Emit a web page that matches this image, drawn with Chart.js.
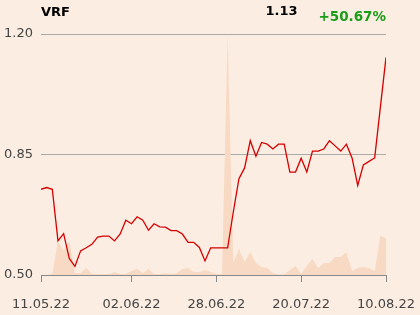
<!DOCTYPE html>
<html><head><meta charset="utf-8">
<script src="https://cdn.jsdelivr.net/npm/chart.js@4"></script>
<style>
html,body{margin:0;padding:0;background:#fbede1;}
#wrap{position:relative;width:420px;height:315px;font-family:"DejaVu Sans",sans-serif;}
canvas{display:block}
.t{position:absolute;font-weight:bold;line-height:1;white-space:nowrap}
</style></head><body>
<div id="wrap">
<canvas id="c" width="420" height="315"></canvas>
<div class="t" style="left:41px;top:5px;font-size:13px;color:#000">VRF</div>
<div class="t" style="left:265.5px;top:3.5px;font-size:13px;color:#000">1.13</div>
<div class="t" style="right:34px;top:10px;font-size:13.5px;color:#1a9e1a">+50.67%</div>
</div>
<script>
// daily close, 11.05.22 .. 10.08.22
const prices = [0.749,0.754,0.749,0.599,0.620,0.548,0.525,0.570,0.579,0.589,
  0.610,0.613,0.613,0.599,0.619,0.659,0.649,0.669,0.659,0.630,
  0.649,0.640,0.639,0.629,0.629,0.619,0.595,0.595,0.580,0.541,
  0.579,0.579,0.579,0.579,0.683,0.780,0.811,0.890,0.845,0.885,
  0.880,0.866,0.880,0.880,0.799,0.799,0.839,0.799,0.860,0.860,
  0.866,0.890,0.875,0.860,0.880,0.840,0.760,0.820,0.830,0.840,
  0.987,1.132];
// volume (relative units)
const volumes = [0,0,1,34,24,34,2,2,7,1,
  1,1,1,3,1,1,4,6,2,6,
  1,1,2,1,2,6,7,3,3,5,
  3,1,1,240,12,26,13,23,12,8,
  7,2,0.5,0.5,5,9,1,9,16,7,
  12,12,18,18,23,4,7,8,7,4,
  39,37];
const tickIdx = [0,16,31,46,61];
const tickLabels = ['11.05.22','02.06.22','28.06.22','20.07.22','10.08.22'];
const yTicks = [0.5,0.85,1.2];

const pts = arr => arr.map((v,i)=>({x:i,y:v}));

new Chart(document.getElementById('c'), {
  type:'line',
  data:{ datasets:[
    { data:pts(prices), borderColor:'#d40000', borderWidth:1.3, pointRadius:0, tension:0, fill:false, yAxisID:'y', order:1 },
    { data:pts(volumes), borderWidth:0, backgroundColor:'#f8dac4', pointRadius:0, tension:0, fill:'origin', yAxisID:'v', order:2 }
  ]},
  options:{
    responsive:false, animation:false, devicePixelRatio:1,
    layout:{ padding:{ top:34, right:34, left:0, bottom:0 } },
    plugins:{ legend:{display:false}, tooltip:{enabled:false} },
    scales:{
      x:{ type:'linear', min:0, max:prices.length-1,
        afterBuildTicks: s => { s.ticks = tickIdx.map(v=>({value:v})); },
        afterFit: s => { s.height = 40; s.paddingLeft = 0; s.paddingRight = 0; },
        ticks:{ callback:(v)=>tickLabels[tickIdx.indexOf(v)], color:'#444', font:{family:'DejaVu Sans', size:13}, padding:15, maxRotation:0, autoSkip:false },
        grid:{ drawOnChartArea:false, drawTicks:true, tickLength:7, color:'#888' },
        border:{ display:true, color:'#888' } },
      y:{ min:0.5, max:1.2,
        afterBuildTicks: s => { s.ticks = yTicks.map(v=>({value:v})); },
        afterFit: s => { s.width = 41; s.paddingTop = 0; s.paddingBottom = 0; },
        ticks:{ callback:v=>v.toFixed(2), color:'#444', font:{family:'DejaVu Sans', size:13}, padding:8 },
        grid:{ drawTicks:false, color:'#aaa' },
        border:{ display:false } },
      v:{ display:false, min:0, max:241 }
    }
  }
});
</script>
</body></html>
